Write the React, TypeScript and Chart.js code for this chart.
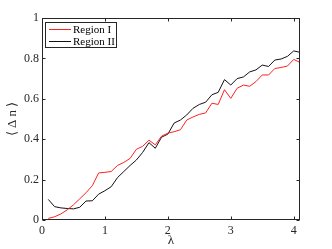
import React, { useEffect, useRef } from "react";
import { Chart, registerables } from "chart.js";

Chart.register(...registerables);

const lambdaValues = [
  0.1, 0.2, 0.3, 0.4, 0.5, 0.6, 0.7, 0.8, 0.9, 1.0,
  1.1, 1.2, 1.3, 1.4, 1.5, 1.6, 1.7, 1.8, 1.9, 2.0,
  2.1, 2.2, 2.3, 2.4, 2.5, 2.6, 2.7, 2.8, 2.9, 3.0,
  3.1, 3.2, 3.3, 3.4, 3.5, 3.6, 3.7, 3.8, 3.9, 4.0, 4.1,
];

const regionI = [
  0.008, 0.016, 0.03, 0.05, 0.075, 0.105, 0.135, 0.17, 0.233, 0.236,
  0.24, 0.27, 0.285, 0.305, 0.35, 0.365, 0.395, 0.372, 0.415, 0.43,
  0.437, 0.447, 0.495, 0.51, 0.523, 0.53, 0.578, 0.572, 0.645, 0.602,
  0.652, 0.668, 0.662, 0.685, 0.718, 0.718, 0.75, 0.755, 0.762, 0.795, 0.78,
];

const regionII = [
  0.102, 0.066, 0.06, 0.057, 0.055, 0.063, 0.094, 0.095, 0.128, 0.145,
  0.165, 0.21, 0.24, 0.27, 0.297, 0.335, 0.383, 0.355, 0.41, 0.425,
  0.48, 0.495, 0.52, 0.553, 0.572, 0.583, 0.62, 0.632, 0.695, 0.668,
  0.7, 0.708, 0.733, 0.743, 0.767, 0.76, 0.792, 0.797, 0.81, 0.837, 0.83,
];

const seriesLabels = ["Region I", "Region II"];
const xTicks = [0, 1, 2, 3, 4];
const yTicks = [0, 0.2, 0.4, 0.6, 0.8, 1];
const yTickLabels = ["0", "0.2", "0.4", "0.6", "0.8", "1"];
const xTitle = "λ";
const yTitle = "⟨ Δ n ⟩";

const AXIS_COLOR = "#262626";
const FONT = "Liberation Serif";

const framePlugin = {
  id: "frame",
  afterDatasetsDraw(chart: any) {
    const { ctx, chartArea, scales } = chart;
    const left = Math.round(chartArea.left) + 0.5;
    const right = Math.round(chartArea.right) - 0.5;
    const top = Math.round(chartArea.top) + 0.5;
    const bottom = Math.round(chartArea.bottom) - 0.5;
    ctx.save();
    ctx.strokeStyle = AXIS_COLOR;
    ctx.lineWidth = 1;
    ctx.strokeRect(left, top, right - left, bottom - top);
    const tl = 3;
    ctx.beginPath();
    xTicks.forEach((v) => {
      const px = Math.round(scales.x.getPixelForValue(v)) + 0.5;
      ctx.moveTo(px, bottom);
      ctx.lineTo(px, bottom - tl);
      ctx.moveTo(px, top);
      ctx.lineTo(px, top + tl);
    });
    yTicks.forEach((v) => {
      const py = Math.round(scales.y.getPixelForValue(v)) + 0.5;
      ctx.moveTo(left, py);
      ctx.lineTo(left + tl, py);
      ctx.moveTo(right, py);
      ctx.lineTo(right - tl, py);
    });
    ctx.stroke();

    // axis titles
    ctx.fillStyle = AXIS_COLOR;
    ctx.font = `13px "${FONT}", serif`;
    ctx.textAlign = "center";
    ctx.textBaseline = "middle";
    ctx.fillText(xTitle, 171, 241);
    ctx.save();
    ctx.translate(13, (chartArea.top + chartArea.bottom) / 2);
    ctx.rotate(-Math.PI / 2);
    ctx.fillText(yTitle, 0, 0);
    ctx.restore();

    // legend
    const bx = 45.5, by = 22.5, bw = 71, bh = 25;
    ctx.fillStyle = "#ffffff";
    ctx.fillRect(bx, by, bw, bh);
    ctx.strokeStyle = AXIS_COLOR;
    ctx.strokeRect(bx, by, bw, bh);
    ctx.font = `11px "${FONT}", serif`;
    ctx.textAlign = "left";
    ctx.textBaseline = "middle";
    chart.data.datasets.forEach((ds: any, i: number) => {
      const ly = 29.5 + i * 12;
      ctx.strokeStyle = ds.borderColor;
      ctx.lineWidth = 1;
      ctx.beginPath();
      ctx.moveTo(49, ly);
      ctx.lineTo(71, ly);
      ctx.stroke();
      ctx.fillStyle = "#000000";
      ctx.fillText(ds.label, 73, ly + 0.5);
    });
    ctx.restore();
  },
};

export default function App() {
  const canvasRef = useRef<HTMLCanvasElement | null>(null);

  useEffect(() => {
    if (!canvasRef.current) return;
    const chart = new Chart(canvasRef.current, {
      type: "line",
      data: {
        datasets: [
          {
            label: seriesLabels[0],
            data: lambdaValues.map((x, i) => ({ x, y: regionI[i] })),
            borderColor: "#ff2020",
            borderWidth: 1,
            pointRadius: 0,
            tension: 0,
            fill: false,
          },
          {
            label: seriesLabels[1],
            data: lambdaValues.map((x, i) => ({ x, y: regionII[i] })),
            borderColor: "#111111",
            borderWidth: 1,
            pointRadius: 0,
            tension: 0,
            fill: false,
          },
        ],
      },
      options: {
        animation: false,
        responsive: false,
        maintainAspectRatio: false,
        layout: { padding: { left: 0, top: 18, right: 32, bottom: 0 } },
        plugins: {
          legend: { display: false },
          title: { display: false },
          tooltip: { enabled: false },
        },
        scales: {
          x: {
            type: "linear",
            min: 0,
            max: 4.1,
            grid: { display: false, drawTicks: false },
            border: { display: false },
            afterBuildTicks: (scale: any) => {
              scale.ticks = xTicks.map((v) => ({ value: v }));
            },
            afterFit: (scale: any) => {
              scale.height = 29;
            },
            ticks: {
              padding: 4,
              color: AXIS_COLOR,
              maxRotation: 0,
              autoSkip: false,
              font: { family: `"${FONT}", serif`, size: 12 },
              callback: (v: any) => String(v),
            },
          },
          y: {
            type: "linear",
            min: 0,
            max: 1,
            grid: { display: false, drawTicks: false },
            border: { display: false },
            afterBuildTicks: (scale: any) => {
              scale.ticks = yTicks.map((v) => ({ value: v }));
            },
            afterFit: (scale: any) => {
              scale.width = 42;
            },
            ticks: {
              padding: 3,
              color: AXIS_COLOR,
              autoSkip: false,
              font: { family: `"${FONT}", serif`, size: 12 },
              callback: (v: any) => {
                const idx = yTicks.findIndex((t) => Math.abs(t - v) < 1e-9);
                return idx >= 0 ? yTickLabels[idx] : "";
              },
            },
          },
        },
      },
      plugins: [framePlugin],
    });
    return () => chart.destroy();
  }, []);

  return (
    <div style={{ position: "fixed", left: 0, top: 0, width: 332, height: 249, background: "#ffffff" }}>
      <canvas ref={canvasRef} width={332} height={249} style={{ width: 332, height: 249 }} />
    </div>
  );
}
